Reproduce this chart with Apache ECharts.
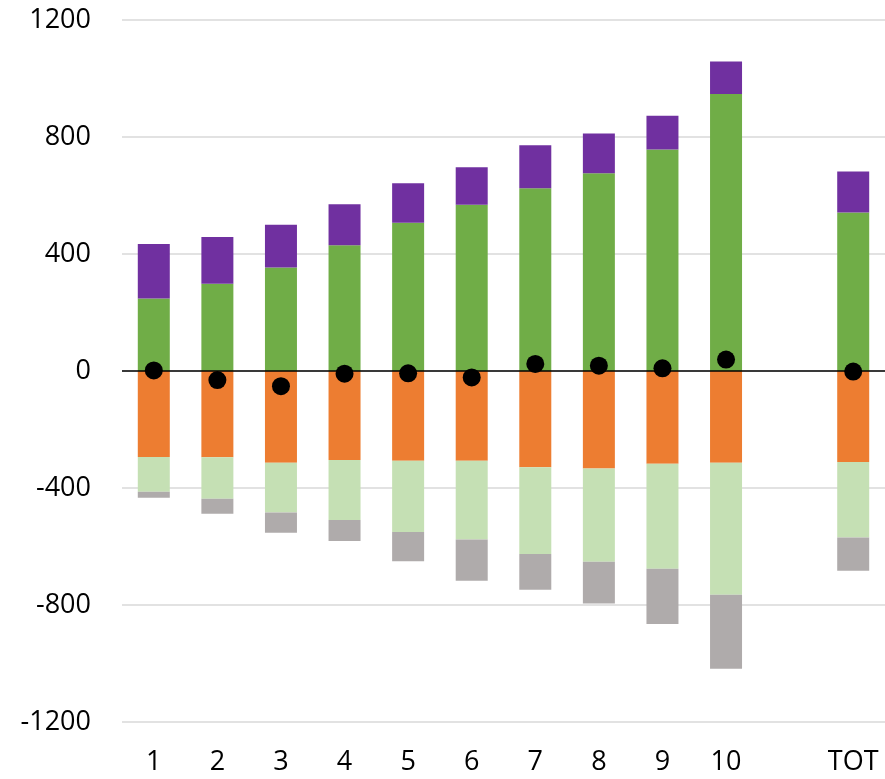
<!DOCTYPE html>
<html>
<head>
<meta charset="utf-8">
<script src="https://cdn.jsdelivr.net/npm/echarts@6/dist/echarts.min.js"></script>
<style>
  html, body { margin: 0; padding: 0; background: #fff; }
  #chart { width: 885px; height: 779px; }
</style>
</head>
<body>
<div id="chart"></div>
<script>
const categories = ['1', '2', '3', '4', '5', '6', '7', '8', '9', '10', '', 'TOT'];

// positive stack
const greenValues = [248, 298, 354, 430, 507, 568, 625, 676, 757, 947, null, 542];
const purpleValues = [186, 160, 146, 140, 135, 129, 147, 136, 116, 111, null, 140];
// negative stack
const orangeValues = [-294, -295, -314, -304, -307, -307, -329, -333, -317, -314, null, -311];
const lightGreenValues = [-119, -142, -170, -205, -243, -269, -297, -319, -359, -451, null, -258];
const grayValues = [-20, -51, -69, -72, -100, -141, -122, -143, -189, -253, null, -114];
// net markers
const dotValues = [2, -31, -52, -9, -8, -22, 24, 18, 9, 39, null, -2];

const yTicks = [-1200, -800, -400, 0, 400, 800, 1200];

const font = '"Open Sans", "Liberation Sans", sans-serif';

const chart = echarts.init(document.getElementById('chart'));

const barSeries = (name, data, color) => ({
  name: name,
  type: 'bar',
  stack: 'total',
  barWidth: 32,
  data: data,
  itemStyle: { color: color },
  silent: true
});

const option = {
  animation: false,
  backgroundColor: '#fff',
  grid: { left: 122, top: 20, width: 766, height: 702 },
  xAxis: {
    type: 'category',
    data: categories,
    axisLine: { show: false },
    axisTick: { show: false },
    axisLabel: { color: '#000', fontSize: 27, fontFamily: font, margin: 27, interval: 0 }
  },
  yAxis: {
    type: 'value',
    min: yTicks[0],
    max: yTicks[yTicks.length - 1],
    interval: 400,
    axisLine: { show: false },
    axisTick: { show: false },
    axisLabel: { color: '#000', fontSize: 27, fontFamily: font, margin: 31, formatter: v => String(v) },
    splitLine: { lineStyle: { color: '#d9d9d9', width: 1.5 } }
  },
  series: [
    barSeries('green', greenValues, '#70AD47'),
    barSeries('purple', purpleValues, '#7030A0'),
    barSeries('orange', orangeValues, '#ED7D31'),
    barSeries('lightgreen', lightGreenValues, '#C5E0B4'),
    Object.assign(barSeries('gray', grayValues, '#AFABAB'), {
      markLine: {
        silent: true,
        symbol: 'none',
        label: { show: false },
        lineStyle: { color: '#000', width: 1.5, type: 'solid' },
        data: [{ yAxis: 0 }]
      }
    }),
    {
      name: 'net',
      type: 'scatter',
      data: dotValues,
      symbol: 'circle',
      symbolSize: 18,
      itemStyle: { color: '#000', opacity: 1 },
      z: 10
    }
  ]
};

chart.setOption(option);
</script>
</body>
</html>
